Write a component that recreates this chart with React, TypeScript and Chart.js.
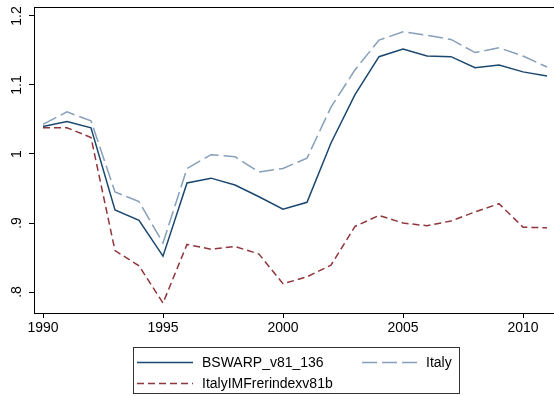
import React, { useEffect, useRef } from "react";
import { Chart, registerables } from "chart.js";
Chart.register(...registerables);

const years = [1990, 1991, 1992, 1993, 1994, 1995, 1996, 1997, 1998, 1999, 2000, 2001, 2002, 2003, 2004, 2005, 2006, 2007, 2008, 2009, 2010, 2011];
const bswarp = [1.04, 1.047, 1.038, 0.919, 0.904, 0.852, 0.958, 0.965, 0.955, 0.938, 0.92, 0.93, 1.016, 1.086, 1.141, 1.152, 1.142, 1.141, 1.125, 1.129, 1.119, 1.113];
const italy = [1.043, 1.061, 1.048, 0.945, 0.931, 0.871, 0.979, 0.999, 0.996, 0.974, 0.979, 0.994, 1.068, 1.122, 1.165, 1.177, 1.172, 1.166, 1.147, 1.154, 1.142, 1.126];
const imf = [1.038, 1.038, 1.024, 0.86, 0.838, 0.784, 0.869, 0.862, 0.866, 0.855, 0.812, 0.822, 0.839, 0.895, 0.911, 0.9, 0.896, 0.903, 0.916, 0.928, 0.894, 0.893];
const xTicks = [1990, 1995, 2000, 2005, 2010];
const yTicks = [0.8, 0.9, 1, 1.1, 1.2];
const yTickLabels = [".8", ".9", "1", "1.1", "1.2"];
const seriesNames = ["BSWARP_v81_136", "Italy", "ItalyIMFrerindexv81b"];

const NAVY = "#1a476f";
const LIGHT = "#869fba";
const MAROON = "#90353b";
const FONT = "Liberation Sans, Arial, sans-serif";

const framePlugin = {
  id: "frame",
  afterDraw(chart: any) {
    const { ctx, chartArea } = chart;
    ctx.save();
    ctx.strokeStyle = "#000";
    ctx.lineWidth = 1;
    ctx.beginPath();
    ctx.moveTo(Math.round(chartArea.left), Math.round(chartArea.top) + 0.5);
    ctx.lineTo(chart.width, Math.round(chartArea.top) + 0.5);
    ctx.stroke();
    // legend
    const bx = 133.5, by = 347.5, bw = 326, bh = 46;
    ctx.strokeStyle = "#333";
    ctx.strokeRect(bx, by, bw, bh);
    const items = [
      { name: seriesNames[0], color: NAVY, dash: [], x1: 137, x2: 193, tx: 202, y: 362 },
      { name: seriesNames[1], color: LIGHT, dash: [15, 5], x1: 362, x2: 417, tx: 426, y: 362 },
      { name: seriesNames[2], color: MAROON, dash: [7, 4], x1: 137, x2: 193, tx: 202, y: 383 },
    ];
    ctx.font = `14px ${FONT}`;
    ctx.textBaseline = "middle";
    ctx.textAlign = "left";
    for (const it of items) {
      ctx.strokeStyle = it.color;
      ctx.lineWidth = 1.5;
      ctx.setLineDash(it.dash);
      ctx.beginPath();
      ctx.moveTo(it.x1, it.y + 0.5);
      ctx.lineTo(it.x2, it.y + 0.5);
      ctx.stroke();
      ctx.setLineDash([]);
      ctx.fillStyle = "#000";
      ctx.fillText(it.name, it.tx, it.y + 1);
    }
    ctx.restore();
  },
};

export default function App() {
  const ref = useRef<HTMLCanvasElement>(null);
  useEffect(() => {
    if (!ref.current) return;
    const mk = (d: number[]) => years.map((y, i) => ({ x: y, y: d[i] }));
    const chart = new Chart(ref.current, {
      type: "line",
      data: {
        datasets: [
          { label: seriesNames[0], data: mk(bswarp), borderColor: NAVY, borderWidth: 1.5, pointRadius: 0, fill: false, tension: 0 },
          { label: seriesNames[1], data: mk(italy), borderColor: LIGHT, borderWidth: 1.5, borderDash: [15, 5], pointRadius: 0, fill: false, tension: 0 },
          { label: seriesNames[2], data: mk(imf), borderColor: MAROON, borderWidth: 1.5, borderDash: [7, 4], pointRadius: 0, fill: false, tension: 0 },
        ],
      },
      options: {
        responsive: false,
        animation: false,
        layout: { padding: { top: 7, right: 1, left: 0, bottom: 0 } },
        plugins: { legend: { display: false }, tooltip: { enabled: false } },
        scales: {
          x: {
            type: "linear",
            min: 1989.625,
            max: 2011.25,
            afterBuildTicks: (s: any) => { s.ticks = xTicks.map((v) => ({ value: v })); },
            afterFit: (s: any) => { s.height = 83; s.paddingLeft = 0; s.paddingRight = 0; s.paddingTop = 0; s.paddingBottom = 0; },
            ticks: { color: "#000", font: { family: FONT, size: 14 }, padding: 2, maxRotation: 0, autoSkip: false, callback: (v: any) => String(v) },
            grid: { drawOnChartArea: false, drawTicks: true, tickLength: 5, color: "#000" },
            border: { display: true, color: "#000" },
          },
          y: {
            type: "linear",
            min: 0.7696,
            max: 1.213,
            afterBuildTicks: (s: any) => { s.ticks = yTicks.map((v) => ({ value: v })); },
            afterFit: (s: any) => { s.width = 34; s.paddingLeft = 0; s.paddingRight = 0; s.paddingTop = 0; s.paddingBottom = 0; },
            ticks: {
              color: "#000",
              font: { family: FONT, size: 14 },
              padding: 2,
              crossAlign: "center",
              minRotation: 90,
              maxRotation: 90,
              autoSkip: false,
              callback: (v: any) => { const i = yTicks.findIndex((t) => Math.abs(t - v) < 1e-6); return i >= 0 ? yTickLabels[i] : ""; },
            },
            grid: { drawOnChartArea: false, drawTicks: true, tickLength: 5, color: "#000" },
            border: { display: true, color: "#000" },
          },
        },
      },
      plugins: [framePlugin],
    } as any);
    return () => chart.destroy();
  }, []);
  return (
    <div style={{ position: "fixed", left: 0, top: 0, width: 554, height: 396, background: "#fff" }}>
      <canvas ref={ref} width={554} height={396} style={{ display: "block" }} />
    </div>
  );
}
